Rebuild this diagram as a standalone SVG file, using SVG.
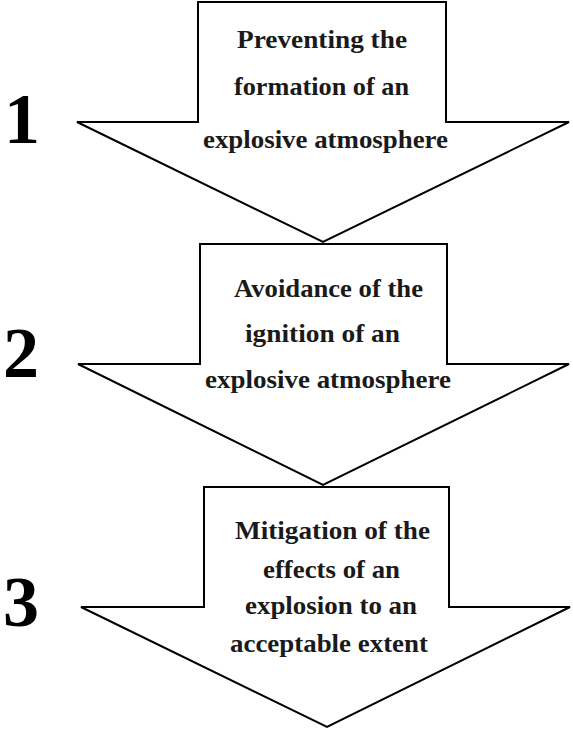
<svg xmlns="http://www.w3.org/2000/svg" width="573" height="731" viewBox="0 0 573 731">
<style>
.arrow{fill:#ffffff;stroke:#000000;stroke-width:2;stroke-linejoin:miter}
.lbl{font-family:"Liberation Serif","Times New Roman",serif;font-weight:bold;font-size:26px;fill:#1a1a1a}
.num{font-family:"Liberation Serif","Times New Roman",serif;font-weight:bold;font-size:72px;fill:#000000}
</style>
<rect x="0" y="0" width="573" height="731" fill="#ffffff"/>
<g id="connectors"></g>
<g id="step1">
<polygon class="arrow" points="198,2 446,2 446,122 569,122 323,242 77,122 198,122"/>
<text class="num" x="4" y="143">1</text>
<text class="lbl" x="237" y="48" textLength="170" lengthAdjust="spacingAndGlyphs">Preventing the</text>
<text class="lbl" x="234" y="95" textLength="175" lengthAdjust="spacingAndGlyphs">formation of an</text>
<text class="lbl" x="203" y="148" textLength="245" lengthAdjust="spacingAndGlyphs">explosive atmosphere</text>
</g>
<g id="step2">
<polygon class="arrow" points="200,244 447,244 447,364 569,364 323,485 78,364 200,364"/>
<text class="num" x="3" y="377">2</text>
<text class="lbl" x="234" y="297" textLength="189" lengthAdjust="spacingAndGlyphs">Avoidance of the</text>
<text class="lbl" x="245" y="342" textLength="155" lengthAdjust="spacingAndGlyphs">ignition of an</text>
<text class="lbl" x="205" y="388" textLength="246" lengthAdjust="spacingAndGlyphs">explosive atmosphere</text>
</g>
<g id="step3">
<polygon class="arrow" points="204,487 449,487 449,607 570,607 327,727 81,607 204,607"/>
<text class="num" x="3" y="626">3</text>
<text class="lbl" x="235" y="539" textLength="195" lengthAdjust="spacingAndGlyphs">Mitigation of the</text>
<text class="lbl" x="263" y="578" textLength="137" lengthAdjust="spacingAndGlyphs">effects of an</text>
<text class="lbl" x="245" y="614" textLength="172" lengthAdjust="spacingAndGlyphs">explosion to an</text>
<text class="lbl" x="230" y="652" textLength="198" lengthAdjust="spacingAndGlyphs">acceptable extent</text>
</g>
</svg>
